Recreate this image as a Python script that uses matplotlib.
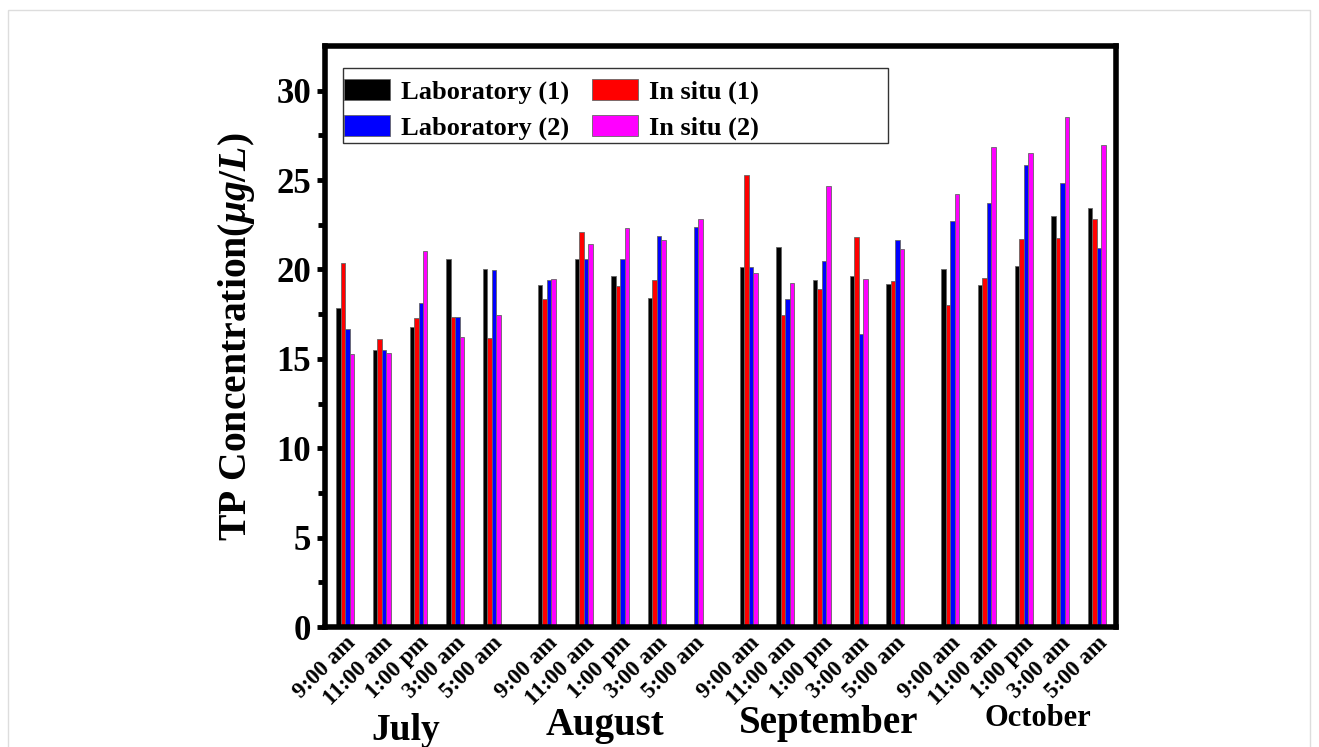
import matplotlib.pyplot as plt
import numpy as np
from matplotlib.patches import Rectangle, Patch

plt.rcParams['font.family'] = ['Liberation Serif', 'DejaVu Serif']
plt.rcParams['font.weight'] = 'bold'
plt.rcParams['mathtext.fontset'] = 'custom'
plt.rcParams['mathtext.it'] = 'Liberation Serif:italic:bold'
plt.rcParams['mathtext.rm'] = 'Liberation Serif:bold'

# Data
months = ['July', 'August', 'September', 'October']
times = ['9:00 am', '11:00 am', '1:00 pm', '3:00 am', '5:00 am']
series = ['Laboratory (1)', 'In situ (1)', 'Laboratory (2)', 'In situ (2)']

lab1 = [17.85, 15.48, 16.77, 20.57, 20.03,
        19.12, 20.59, 19.66, 18.41, 0,
        20.15, 21.25, 19.42, 19.63, 19.18,
        20.0, 19.16, 20.22, 23.0, 23.45]
insitu1 = [20.39, 16.12, 17.27, 17.35, 16.15,
           18.35, 22.07, 19.05, 19.40, 0,
           25.29, 17.46, 18.90, 21.82, 19.38,
           18.02, 19.51, 21.71, 21.77, 22.81]
lab2 = [16.68, 15.48, 18.11, 17.37, 19.96,
        19.42, 20.57, 20.59, 21.86, 22.40,
        20.15, 18.34, 20.48, 16.40, 21.64,
        22.72, 23.73, 25.84, 24.85, 21.19]
insitu2 = [15.26, 15.31, 21.06, 16.25, 17.44,
           19.46, 21.43, 22.33, 21.64, 22.81,
           19.79, 19.25, 24.68, 19.47, 21.15,
           24.21, 26.86, 26.52, 28.54, 26.95]

colors = ['black', 'red', 'blue', 'magenta']

# group positions: 5 per month, 1.5 step between months
pos = np.concatenate([np.arange(5) + 5.5 * m for m in range(4)])

fig = plt.figure(figsize=(13.19, 7.47), dpi=100)
ax = fig.add_axes([0.2464, 0.1606, 0.5997, 0.7778])

w = 0.1225
for i, (vals, c) in enumerate(zip([lab1, insitu1, lab2, insitu2], colors)):
    ax.bar(pos + (i - 1.5) * w, vals, width=w, color=c,
           edgecolor='#666666', linewidth=0.6, label=series[i])

ax.set_xlim(-0.55, 21.02)
ax.set_ylim(0, 32.5)
ax.set_yticks(np.arange(0, 31, 5))
ax.set_yticks(np.arange(2.5, 31, 5), minor=True)
ax.tick_params(axis='y', which='major', direction='out', length=6, width=3.5,
               labelsize=25, pad=4)
ax.tick_params(axis='y', which='minor', direction='out', length=5, width=3.5)
for lbl in ax.get_yticklabels():
    lbl.set_fontweight('bold')
for s in ax.spines.values():
    s.set_linewidth(4)

ax.set_xticks(pos)
ax.set_xticklabels(times * 4, rotation=45, ha='right', va='top',
                   rotation_mode='anchor', fontsize=16.5, fontweight='bold')
ax.tick_params(axis='x', length=0, pad=4)

ax.set_ylabel(r'TP Concentration($\mu g/L$)', fontsize=28.5, fontweight='bold',
              labelpad=14)

# month labels
month_x = [1.65, 7.08, 13.19, 18.9]
month_y = [-0.178, -0.17, -0.166, -0.157]
month_fs = [27, 28, 28, 22]
for name, mx, my, fs in zip(months, month_x, month_y, month_fs):
    ax.text(mx, my, name, transform=ax.get_xaxis_transform(), ha='center',
            va='center', fontsize=fs, fontweight='bold')

handles = [Patch(facecolor=c, edgecolor='#666666', linewidth=0.6) for c in colors]
order = [0, 2, 1, 3]
leg = ax.legend([handles[k] for k in order], [series[k] for k in order],
                ncol=2, loc='upper left', bbox_to_anchor=(0.024, 0.943),
                fontsize=19, frameon=False, handlelength=1.75,
                handleheight=0.85, handletextpad=0.42, columnspacing=0.85,
                labelspacing=0.42, borderpad=0.0, borderaxespad=0)
for t in leg.get_texts():
    t.set_fontweight('bold')
# fixed-size legend box as in the original
ax.add_patch(Rectangle((0.0228, 0.833), 0.689, 0.129, transform=ax.transAxes,
                       fill=False, edgecolor='#333333', linewidth=1.0, zorder=5))

# faint outer border
fig.patches.append(Rectangle((8 / 1319, -0.01), 1302 / 1319, 1 - 10 / 747 + 0.01,
                             transform=fig.transFigure, fill=False,
                             edgecolor='#dddddd', linewidth=1))

fig.savefig('out.png', dpi=100)
